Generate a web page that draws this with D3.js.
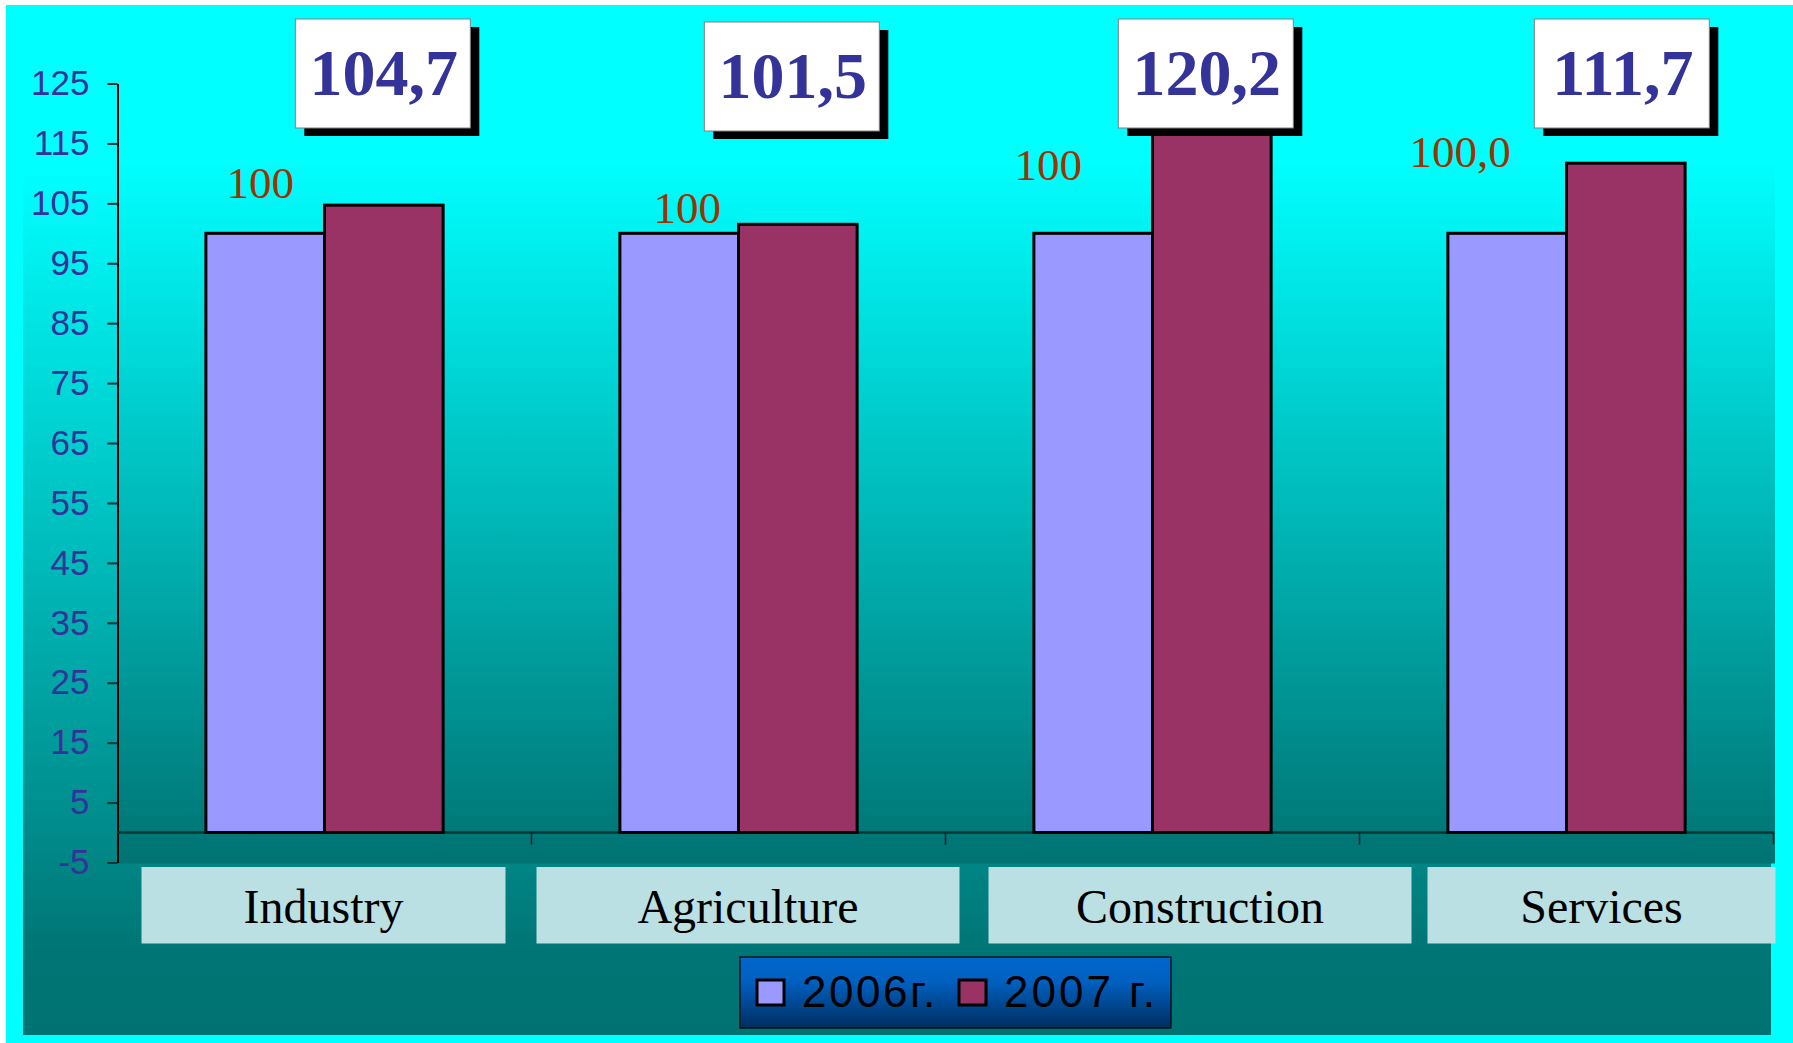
<!DOCTYPE html>
<html>
<head>
<meta charset="utf-8">
<script src="https://cdn.jsdelivr.net/npm/d3@7"></script>
<style>
  html, body { margin: 0; padding: 0; background: #ffffff; }
  svg { display: block; }
</style>
</head>
<body>
<script>
// ---------------- DATA ----------------
const categories = ["Industry", "Agriculture", "Construction", "Services"];
const seriesNames = ["2006г.", "2007 г."];
const values2006 = [100, 100, 100, 100];
const values2007 = [104.7, 101.5, 120.2, 111.7];
const labels2006 = ["100", "100", "100", "100,0"];
const yTicks = [-5, 5, 15, 25, 35, 45, 55, 65, 75, 85, 95, 105, 115, 125];

// ---------------- LAYOUT ----------------
const W = 1793, H = 1043;
const colors = ["#9999FF", "#993366"];
// manual label offsets (relative to the 2006 bar center / top)
const label2006Offsets = [[-5, -35], [8, -10], [-45, -53], [-47, -66]];
// category caption boxes: [left, right] offsets relative to band edges
const catBoxAdj = [[24, -26], [5, 14], [43, 52], [68, 2]];
const valueBoxAdj = [[0, 0], [-5, 3], [-5, 0], [-3, 0]];

const svg = d3.select("body").append("svg").attr("width", W).attr("height", H);
const defs = svg.append("defs");

const gPanel = defs.append("linearGradient").attr("id", "panelGrad")
  .attr("x1", 0).attr("y1", 0).attr("x2", 0).attr("y2", 1);
gPanel.append("stop").attr("offset", "0%").attr("stop-color", "#00FFFF");
gPanel.append("stop").attr("offset", "16%").attr("stop-color", "#00FFFF");
gPanel.append("stop").attr("offset", "92%").attr("stop-color", "#007575");
gPanel.append("stop").attr("offset", "100%").attr("stop-color", "#007272");

const gPlot = defs.append("linearGradient").attr("id", "plotGrad")
  .attr("x1", 0).attr("y1", 0).attr("x2", 0).attr("y2", 1);
gPlot.append("stop").attr("offset", "0%").attr("stop-color", "#00FFFF");
gPlot.append("stop").attr("offset", "10%").attr("stop-color", "#00FFFF");
gPlot.append("stop").attr("offset", "100%").attr("stop-color", "#007272");

const gLeg = defs.append("linearGradient").attr("id", "legGrad")
  .attr("x1", 0).attr("y1", 0).attr("x2", 0).attr("y2", 1);
gLeg.append("stop").attr("offset", "0%").attr("stop-color", "#0066CC");
gLeg.append("stop").attr("offset", "35%").attr("stop-color", "#0060C0");
gLeg.append("stop").attr("offset", "100%").attr("stop-color", "#002E60");

// backgrounds
svg.append("rect").attr("x", 6).attr("y", 5).attr("width", W - 6).attr("height", H - 5).attr("fill", "#00FFFF");
svg.append("rect").attr("x", 23).attr("y", 5).attr("width", 1771 - 23).attr("height", 1035 - 5).attr("fill", "url(#panelGrad)");

// scales
const y = d3.scaleLinear().domain([-5, 125]).range([862.5, 83.5]);
const x = d3.scaleBand().domain(categories).range([117.5, 1773.5]).paddingInner(0).paddingOuter(0);
const xs = d3.scaleBand().domain(seriesNames).range([0, x.bandwidth()]).paddingInner(0).paddingOuter(0.745);

// plot area
svg.append("rect").attr("x", 117.5).attr("y", y(125)).attr("width", 1775 - 117.5)
  .attr("height", y(-5) - y(125) + 1).attr("fill", "url(#plotGrad)");

// y axis
const yAxis = d3.axisLeft(y).tickValues(yTicks).tickSize(10).tickSizeOuter(0).tickPadding(18)
  .tickFormat(d => String(d));
const gy = svg.append("g").attr("transform", "translate(117.5,0)").call(yAxis);
gy.select(".domain").attr("stroke", "#000").attr("stroke-width", 2);
gy.selectAll(".tick line").attr("stroke", "#003333").attr("stroke-width", 2);
gy.selectAll(".tick text").attr("fill", "#333399")
  .attr("font-family", "'Liberation Sans', Arial, sans-serif").attr("font-size", 35);

// zero line & category ticks
svg.append("line").attr("x1", 117.5).attr("x2", 1773.5).attr("y1", y(0)).attr("y2", y(0))
  .attr("stroke", "#003838").attr("stroke-width", 2.5);
const boundaries = categories.map(c => x(c) + x.bandwidth());
svg.selectAll(".xtick").data(boundaries).enter().append("line")
  .attr("x1", d => d).attr("x2", d => d).attr("y1", y(0)).attr("y2", y(0) + 12)
  .attr("stroke", "#002222").attr("stroke-width", 1.5);

// bars
const seriesVals = [values2006, values2007];
seriesNames.forEach((s, si) => {
  svg.selectAll(".bar" + si).data(categories).enter().append("rect")
    .attr("x", c => x(c) + xs(s))
    .attr("y", (c, i) => y(seriesVals[si][i]))
    .attr("width", xs.bandwidth())
    .attr("height", (c, i) => y(0) - y(seriesVals[si][i]))
    .attr("fill", colors[si])
    .attr("stroke", "#000").attr("stroke-width", 3);
});

// 2006 labels
svg.selectAll(".lab06").data(categories).enter().append("text")
  .attr("x", (c, i) => x(c) + xs(seriesNames[0]) + xs.bandwidth() / 2 + label2006Offsets[i][0])
  .attr("y", (c, i) => y(values2006[i]) + label2006Offsets[i][1])
  .attr("text-anchor", "middle")
  .attr("font-family", "'Liberation Serif', 'Times New Roman', serif")
  .attr("font-size", 45).attr("fill", "#993300")
  .text((c, i) => labels2006[i]);

// 2007 value boxes
const fmt = v => d3.format(".1f")(v).replace(".", ",");
const boxW = 175, boxH = 109, boxTop = 19;
categories.forEach((c, i) => {
  const cx = x(c) + xs(seriesNames[1]) + xs.bandwidth() / 2 - 1 + valueBoxAdj[i][0];
  const top = boxTop + valueBoxAdj[i][1];
  svg.append("rect").attr("x", cx - boxW / 2 + 9).attr("y", top + 8)
    .attr("width", boxW).attr("height", boxH).attr("fill", "#000");
  svg.append("rect").attr("x", cx - boxW / 2).attr("y", top)
    .attr("width", boxW).attr("height", boxH).attr("fill", "#fff")
    .attr("stroke", "#808080").attr("stroke-width", 1);
  svg.append("text").attr("x", cx + 1).attr("y", top + 76)
    .attr("text-anchor", "middle")
    .attr("font-family", "'Liberation Serif', 'Times New Roman', serif")
    .attr("font-weight", "bold").attr("font-size", 66).attr("fill", "#333399")
    .text(fmt(values2007[i]));
});

// category caption boxes
categories.forEach((c, i) => {
  const x0 = x(c) + catBoxAdj[i][0];
  const x1 = x(c) + x.bandwidth() + catBoxAdj[i][1];
  svg.append("rect").attr("x", x0).attr("y", 867).attr("width", x1 - x0).attr("height", 76.5)
    .attr("fill", "#BBE0E3");
  svg.append("text").attr("x", (x0 + x1) / 2).attr("y", 923)
    .attr("text-anchor", "middle")
    .attr("font-family", "'Liberation Serif', 'Times New Roman', serif")
    .attr("font-size", 48).attr("fill", "#000")
    .text(c);
});

// legend
const leg = svg.append("g");
leg.append("rect").attr("x", 740).attr("y", 957).attr("width", 431).attr("height", 71)
  .attr("fill", "url(#legGrad)").attr("stroke", "#000").attr("stroke-width", 1.2);
const legX = [757, 959];
const legSpacing = [2.5, 3];
seriesNames.forEach((s, si) => {
  leg.append("rect").attr("x", legX[si]).attr("y", 980).attr("width", 27).attr("height", 25)
    .attr("fill", colors[si]).attr("stroke", "#000").attr("stroke-width", 3);
  leg.append("text").attr("x", legX[si] + 45).attr("y", 1007)
    .attr("font-family", "'Liberation Sans', Arial, sans-serif")
    .attr("font-size", 44).attr("letter-spacing", legSpacing[si]).attr("fill", "#000")
    .text(s);
});
</script>
</body>
</html>
